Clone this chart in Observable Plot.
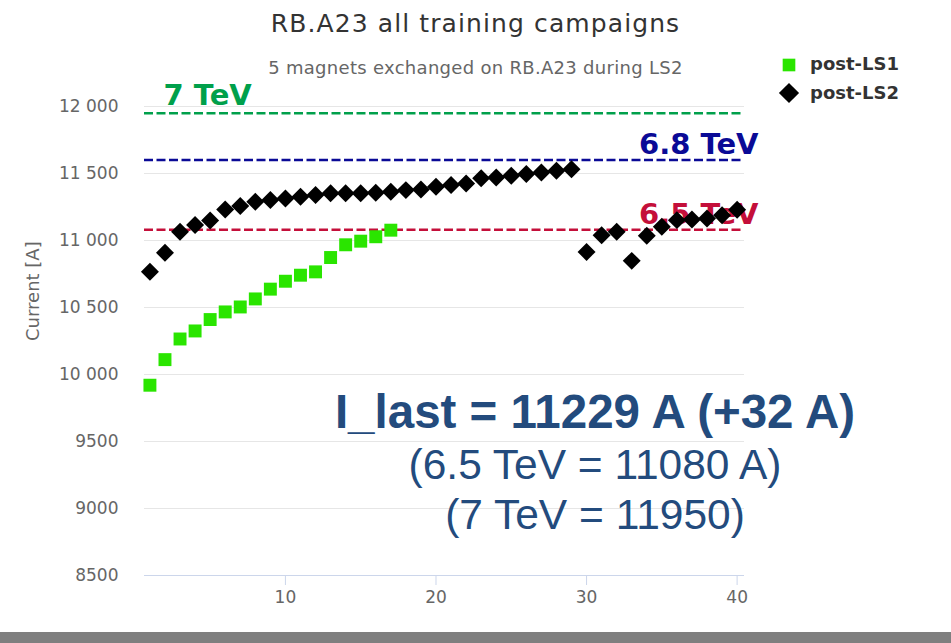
<!DOCTYPE html>
<html>
<head>
<meta charset="utf-8">
<script src="https://cdn.jsdelivr.net/npm/d3@7"></script>
<script src="https://cdn.jsdelivr.net/npm/@observablehq/plot@0.6"></script>
<style>
  html, body { margin: 0; padding: 0; background: #fff; overflow: hidden; }
  #wrap { position: relative; width: 951px; height: 643px; }
  #wrap svg.plot { position: absolute; left: 0; top: 0; }
  .ov { position: absolute; white-space: nowrap; line-height: normal; }
  .title { left: 0; width: 951px; text-align: center; font-family: "DejaVu Sans"; color: #333; }
  .legend { font-family: "DejaVu Sans"; font-weight: bold; font-size: 18px; color: #333; }
  .note { left: 0; width: 1190px; text-align: center; font-family: "Liberation Sans", Arial; color: #234b7d; }
  #bar { position: absolute; left: 0; top: 632px; width: 951px; height: 11px; background: #7f7f7f; }
</style>
</head>
<body>
<div id="wrap"></div>
<script>
// ---- data ----
const titleText = "RB.A23 all training campaigns";
const subtitleText = "5 magnets exchanged on RB.A23 during LS2";
const yAxisTitle = "Current [A]";
const seriesNames = ["post-LS1", "post-LS2"];
const runsLS1 = [1,2,3,4,5,6,7,8,9,10,11,12,13,14,15,16,17];
const currentLS1 = [9920,10111,10265,10325,10410,10467,10504,10564,10637,10696,10741,10766,10873,10968,10995,11028,11077];
const runsLS2 = [1,2,3,4,5,6,7,8,9,10,11,12,13,14,15,16,17,18,19,20,21,22,23,24,25,26,27,28,29,30,31,32,33,34,35,36,37,38,39,40];
const currentLS2 = [10766,10908,11065,11115,11150,11232,11257,11289,11302,11314,
                    11326,11339,11352,11352,11352,11356,11364,11376,11381,11401,
                    11414,11426,11464,11471,11483,11496,11508,11520,11531,
                    10915,11040,11065,10848,11035,11102,11152,11157,11165,11189,11229];
const refLabels = ["7 TeV", "6.8 TeV", "6.5 TeV"];
const refValues = [11950, 11600, 11080];
const xTicks = [10, 20, 30, 40];
const yTicks = [8500, 9000, 9500, 10000, 10500, 11000, 11500, 12000];
const noteLines = ["I_last = 11229 A (+32 A)", "(6.5 TeV = 11080 A)", "(7 TeV = 11950)"];

// ---- build tables ----
const ls1 = runsLS1.map((r, i) => ({run: r, current: currentLS1[i]}));
const ls2 = runsLS2.map((r, i) => ({run: r, current: currentLS2[i]}));
const refColors = ["#00a04b", "#0a0a96", "#c40f3a"];
const refs = refLabels.map((l, i) => ({label: l, value: refValues[i], color: refColors[i]}));
const fmtY = d => d >= 10000 ? d3.format(",")(d).replace(",", " ") : String(d);

const refMarks = refs.flatMap((r, i) => [
  Plot.ruleY([r], {y: "value", stroke: r.color, strokeWidth: 2.5, strokeDasharray: "9,3.5"}),
  Plot.text([r], {
    y: "value", text: "label", fill: r.color, fontWeight: "bold", fontSize: 29,
    frameAnchor: i === 0 ? "left" : "right",
    textAnchor: i === 0 ? "start" : "end",
    dx: i === 0 ? 19 : 14, dy: i === 0 ? -8 : -6, lineAnchor: "bottom"
  })
]);

const chart = Plot.plot({
  width: 951, height: 643,
  marginLeft: 144, marginRight: 207, marginTop: 106, marginBottom: 68,
  style: {fontFamily: "DejaVu Sans", fontSize: "17px", color: "#666", background: "transparent", overflow: "visible"},
  x: {domain: [0.64, 40.49], ticks: xTicks, tickSize: 10, tickPadding: 5, label: null},
  y: {domain: [8500, 12000], ticks: yTicks, tickSize: 0, tickPadding: 26, tickFormat: fmtY, label: null},
  marks: [
    Plot.ruleY(yTicks.filter(v => v > 8500), {stroke: "#e6e6e6", strokeWidth: 1}),
    Plot.ruleY([8500], {stroke: "#ccd6eb", strokeWidth: 1}),
    Plot.text([yAxisTitle], {frameAnchor: "left", rotate: -90, dx: -111, fill: "#666", fontSize: 18}),
    ...refMarks,
    Plot.dot(ls1, {x: "run", y: "current", symbol: "square", r: 7.3, fill: "#2ae500"}),
    Plot.dot(ls2, {x: "run", y: "current", symbol: "diamond2", r: 8.1, fill: "#000"})
  ]
});
chart.classList.add("plot");
d3.select(chart).selectAll('g[aria-label^="x-axis"] line, g[aria-label^="x-axis"] path').attr("stroke", "#ccd6eb");
d3.select(chart).selectAll('g[aria-label^="x-axis"] path.domain').remove();

const wrap = document.getElementById("wrap");
wrap.appendChild(chart);

function addDiv(cls, text, css) {
  const d = document.createElement("div");
  d.className = "ov " + cls;
  d.textContent = text;
  Object.assign(d.style, css);
  wrap.appendChild(d);
  return d;
}
// title + subtitle (baseline ≈ top + 0.928em for DejaVu Sans)
addDiv("title", titleText, {top: (32 - 0.928 * 25) + "px", fontSize: "25px", letterSpacing: "1.1px"});
addDiv("title", subtitleText, {top: (74 - 0.928 * 18) + "px", fontSize: "18px", color: "#666", letterSpacing: "0.3px"});

// legend
const legendFill = ["#2ae500", "#000"];
const legendBase = [70, 99];
seriesNames.forEach((name, i) => {
  addDiv("legend", name, {left: "810px", top: (legendBase[i] - 0.928 * 18) + "px"});
  const s = d3.create("svg").attr("width", 24).attr("height", 24)
    .style("position", "absolute").style("left", (789 - 12) + "px").style("top", (legendBase[i] - 5 - 12 - (i ? 1 : 0)) + "px");
  s.append("path").attr("transform", "translate(12,12)")
    .attr("d", d3.symbol(i ? d3.symbolDiamond2 : d3.symbolSquare, i ? 260 : 160)())
    .attr("fill", legendFill[i]);
  wrap.appendChild(s.node());
});

// annotation (baseline ≈ top + 0.905em for Liberation Sans)
const noteSize = [47.5, 42.5, 42.5];
const noteBase = [427, 479, 529];
noteLines.forEach((t, i) => {
  addDiv("note", t, {top: (noteBase[i] - 0.905 * noteSize[i]) + "px", fontSize: noteSize[i] + "px", fontWeight: i === 0 ? "bold" : "normal"});
});

const bar = document.createElement("div");
bar.id = "bar";
wrap.appendChild(bar);
</script>
</body>
</html>
